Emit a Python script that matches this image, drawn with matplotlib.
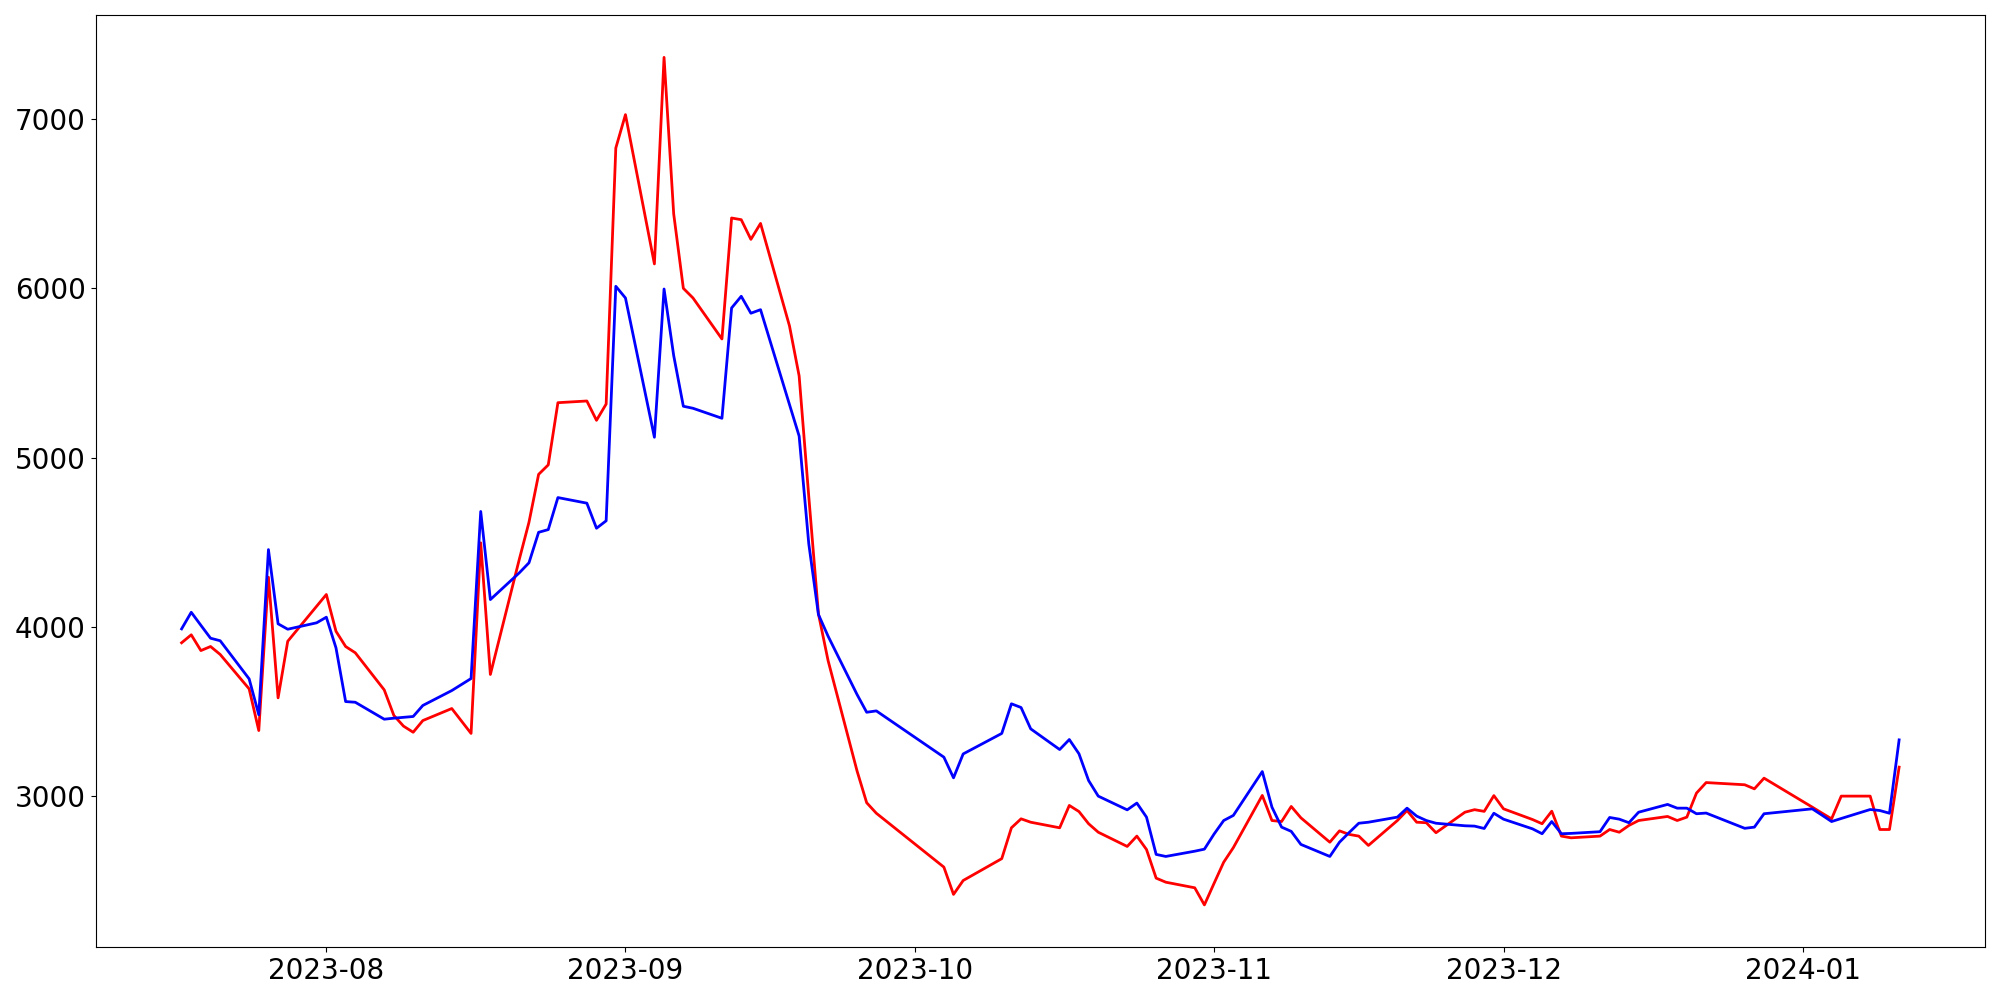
import matplotlib
matplotlib.use("Agg")
import matplotlib.pyplot as plt
import matplotlib.dates as mdates
import pandas as pd

# Trading days (KRX business days, holidays removed)
start_date = "2023-07-17"
end_date = "2024-01-11"
holidays = ["2023-08-15", "2023-09-28", "2023-09-29", "2023-10-02",
            "2023-10-03", "2023-10-09", "2023-12-25", "2023-12-29",
            "2024-01-01"]

red_values = [
    3907, 3954, 3861, 3885, 3838, 3635, 3389, 4294, 3582, 3916, 4123,
    4192, 3975, 3885, 3848, 3629, 3478, 3415, 3379, 3448, 3519, 3372,
    4497, 3720, 4400, 4618, 4901, 4957, 5324, 5334, 5220, 5316, 6827,
    7024, 6143, 7362, 6438, 5999, 5942, 5700, 6414, 6404, 6288, 6382,
    5777, 5482, 4770, 4078, 3802, 3151, 2963, 2901,
    2583, 2422, 2504, 2633, 2815, 2868, 2848, 2815, 2947, 2911, 2839,
    2789, 2705, 2766, 2687, 2518, 2494, 2461, 2360,
    2487, 2612, 2698, 3006, 2858, 2852, 2941, 2874, 2730, 2797, 2776,
    2766, 2711, 2858, 2917, 2848, 2845, 2786, 2907, 2922, 2912, 3005,
    2927, 2864, 2839, 2913, 2766, 2756, 2766, 2805, 2789, 2829, 2858,
    2882, 2858, 2878, 3020, 3082, 3069, 3045, 3108,
    2937, 2902, 2868, 3002, 3002, 2805, 2805, 3173,
]

blue_values = [
    3989, 4087, 4010, 3934, 3919, 3694, 3482, 4457, 4019, 3987, 4025,
    4058, 3877, 3560, 3556, 3456, 3462, 3467, 3472, 3537, 3625, 3696,
    4682, 4162, 4320, 4379, 4559, 4575, 4764, 4731, 4583, 4627, 6011,
    5942, 5120, 5995, 5602, 5303, 5291, 5232, 5883, 5952, 5852, 5873,
    5313, 5127, 4491, 4074, 3946, 3602, 3497, 3505,
    3232, 3110, 3251, 3372, 3547, 3525, 3399, 3277, 3336, 3252, 3094,
    3002, 2921, 2961, 2878, 2658, 2646, 2677, 2689,
    2778, 2858, 2888, 3147, 2937, 2819, 2794, 2717, 2646, 2730, 2787,
    2842, 2848, 2878, 2931, 2884, 2858, 2842, 2827, 2825, 2811, 2901,
    2866, 2809, 2780, 2852, 2780, 2782, 2792, 2876, 2866, 2845, 2907,
    2953, 2931, 2931, 2898, 2902, 2812, 2819, 2898,
    2927, 2890, 2852, 2870, 2923, 2917, 2901, 3334,
]

dates = pd.bdate_range(start_date, end_date)
dates = dates[~dates.isin(pd.to_datetime(holidays))]
assert len(dates) == len(red_values) == len(blue_values)

fig, ax = plt.subplots(figsize=(20, 10), dpi=100)
ax.plot(dates, red_values, color="red", linewidth=2)
ax.plot(dates, blue_values, color="blue", linewidth=2)

ax.xaxis.set_major_locator(mdates.MonthLocator())
ax.xaxis.set_major_formatter(mdates.DateFormatter("%Y-%m"))
ax.tick_params(axis="both", labelsize=20)

fig.tight_layout()
fig.savefig("out.png", dpi=100)
